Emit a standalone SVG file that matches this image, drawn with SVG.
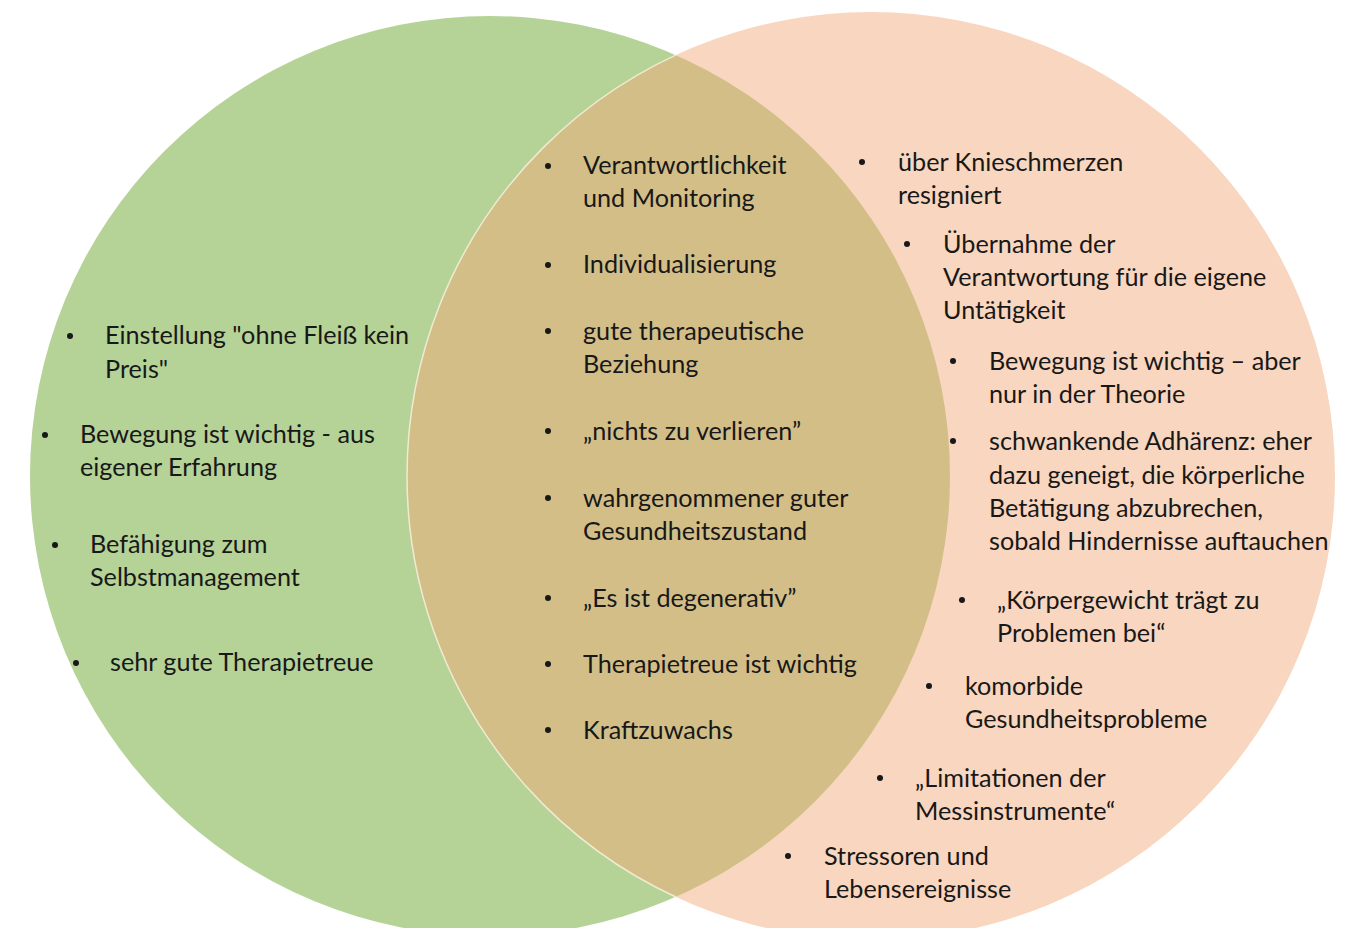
<svg xmlns="http://www.w3.org/2000/svg" width="1348" height="928" viewBox="0 0 1348 928">
<style>
.t{font-family:Lato,"Open Sans","Liberation Sans",sans-serif;font-size:25.2px;fill:#181818;}
.b{fill:#181818;}
</style>
<defs>
<clipPath id="clipL"><circle cx="490" cy="476" r="460"/></clipPath>
</defs>
<rect width="1348" height="928" fill="#ffffff"/>
<g id="circle-left"><circle cx="490" cy="476" r="460" fill="#B5D297"/></g>
<g id="circle-right"><circle cx="871" cy="476" r="464" fill="#F9D6BF"/></g>
<g id="overlap" clip-path="url(#clipL)">
<circle cx="871" cy="476" r="464" fill="#D3BE88"/>
<circle cx="871" cy="476" r="464" fill="none" stroke="#EFEBD2" stroke-width="1.5"/>
</g>
<g id="connectors"></g>
<g id="left-items">
<circle class="b" cx="70" cy="336" r="3"/>
<text class="t" x="105" y="344">Einstellung "ohne Fleiß kein</text>
<text class="t" x="105" y="378">Preis"</text>
<circle class="b" cx="45" cy="435" r="3"/>
<text class="t" x="80" y="443">Bewegung ist wichtig - aus</text>
<text class="t" x="80" y="476">eigener Erfahrung</text>
<circle class="b" cx="55" cy="545" r="3"/>
<text class="t" x="90" y="553">Befähigung zum</text>
<text class="t" x="90" y="586">Selbstmanagement</text>
<circle class="b" cx="76" cy="663" r="3"/>
<text class="t" x="110" y="671">sehr gute Therapietreue</text>
</g>
<g id="middle-items">
<circle class="b" cx="548" cy="166" r="3"/>
<text class="t" x="583" y="174">Verantwortlichkeit</text>
<text class="t" x="583" y="207">und Monitoring</text>
<circle class="b" cx="548" cy="265" r="3"/>
<text class="t" x="583" y="273">Individualisierung</text>
<circle class="b" cx="548" cy="331" r="3"/>
<text class="t" x="583" y="340">gute therapeutische</text>
<text class="t" x="583" y="373">Beziehung</text>
<circle class="b" cx="548" cy="431" r="3"/>
<text class="t" x="583" y="440">„nichts zu verlieren”</text>
<circle class="b" cx="548" cy="498" r="3"/>
<text class="t" x="583" y="507">wahrgenommener guter</text>
<text class="t" x="583" y="540">Gesundheitszustand</text>
<circle class="b" cx="548" cy="598" r="3"/>
<text class="t" x="583" y="607">„Es ist degenerativ”</text>
<circle class="b" cx="548" cy="664" r="3"/>
<text class="t" x="583" y="673">Therapietreue ist wichtig</text>
<circle class="b" cx="548" cy="730" r="3"/>
<text class="t" x="583" y="739">Kraftzuwachs</text>
</g>
<g id="right-items">
<circle class="b" cx="862" cy="162" r="3"/>
<text class="t" x="898" y="171">über Knieschmerzen</text>
<text class="t" x="898" y="204">resigniert</text>
<circle class="b" cx="907" cy="244" r="3"/>
<text class="t" x="943" y="253">Übernahme der</text>
<text class="t" x="943" y="286">Verantwortung für die eigene</text>
<text class="t" x="943" y="319">Untätigkeit</text>
<circle class="b" cx="953" cy="361" r="3"/>
<text class="t" x="989" y="370">Bewegung ist wichtig – aber</text>
<text class="t" x="989" y="403">nur in der Theorie</text>
<circle class="b" cx="953" cy="441" r="3"/>
<text class="t" x="989" y="450">schwankende Adhärenz: eher</text>
<text class="t" x="989" y="484">dazu geneigt, die körperliche</text>
<text class="t" x="989" y="517">Betätigung abzubrechen,</text>
<text class="t" x="989" y="550">sobald Hindernisse auftauchen</text>
<circle class="b" cx="962" cy="600" r="3"/>
<text class="t" x="997" y="609">„Körpergewicht trägt zu</text>
<text class="t" x="997" y="642">Problemen bei“</text>
<circle class="b" cx="929" cy="686" r="3"/>
<text class="t" x="965" y="695">komorbide</text>
<text class="t" x="965" y="728">Gesundheitsprobleme</text>
<circle class="b" cx="880" cy="778" r="3"/>
<text class="t" x="915" y="787">„Limitationen der</text>
<text class="t" x="915" y="820">Messinstrumente“</text>
<circle class="b" cx="788" cy="856" r="3"/>
<text class="t" x="824" y="865">Stressoren und</text>
<text class="t" x="824" y="898">Lebensereignisse</text>
</g>
</svg>
